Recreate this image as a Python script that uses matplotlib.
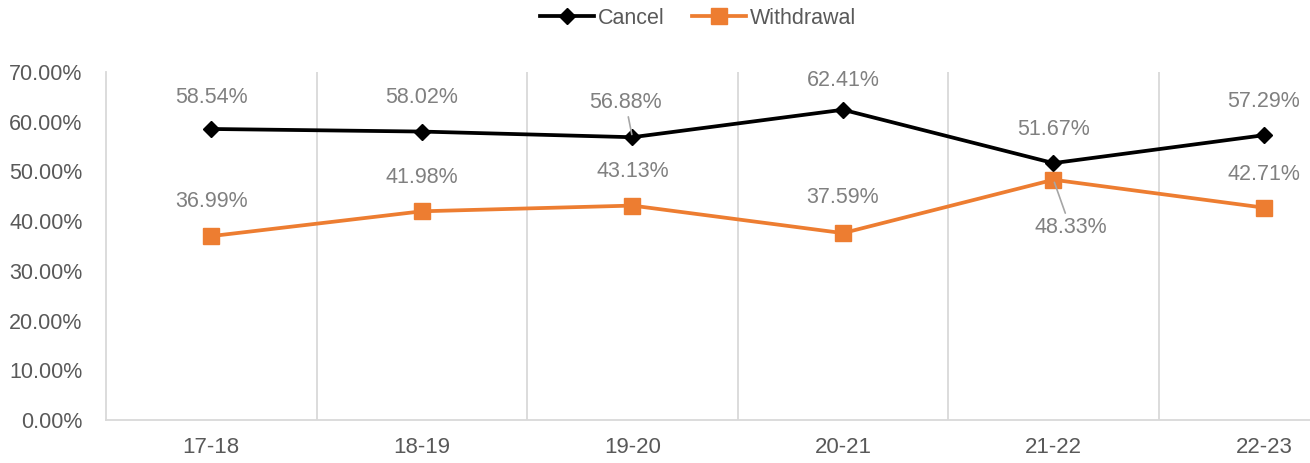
import matplotlib
matplotlib.use("Agg")
from matplotlib import pyplot as plt
from matplotlib.ticker import PercentFormatter

# 数据
years = ["17-18", "18-19", "19-20", "20-21", "21-22", "22-23"]
cancel = [0.5854, 0.5802, 0.5688, 0.6241, 0.5167, 0.5729]
withdrawal = [0.3699, 0.4198, 0.4313, 0.3759, 0.4833, 0.4271]

# 标签偏移（像素）
cancel_off = [(0, 31), (0, 34), (-7, 35), (0, 29), (0, 34), (0, 34)]
withdrawal_off = [(0, 35), (0, 34), (0, 34), (0, 36), (17, -48), (0, 33)]
cancel_leader = [False, False, True, False, False, False]
withdrawal_leader = [False, False, False, False, True, False]

plt.rcParams['font.family'] = ['Liberation Sans', 'DejaVu Sans']

fig = plt.figure(figsize=(13.10, 4.63), dpi=100)
ax = fig.add_axes([106 / 1310, 43 / 463, 1 - 106 / 1310, (420 - 72) / 463])

x = list(range(len(years)))
ax.plot(x, cancel, color="black", lw=2.7, marker="D", markersize=8.5, label="Cancel", zorder=3)
ax.plot(x, withdrawal, color="#ED7D31", lw=2.7, marker="s", markersize=11, label="Withdrawal", zorder=3)

# 数据标签
for series, offs, leads in [(cancel, cancel_off, cancel_leader),
                            (withdrawal, withdrawal_off, withdrawal_leader)]:
    for i, v in enumerate(series):
        dx, dy = offs[i]
        props = None
        if leads[i]:
            props = dict(arrowstyle="-", color="#a6a6a6", lw=1.2, shrinkA=1, shrinkB=2)
        ax.annotate("{:.2f}%".format(v * 100), (i, v), xytext=(dx, dy),
                    textcoords="offset pixels", ha="center", va="center",
                    fontsize=15.5, color="#808080", arrowprops=props, zorder=4)

ax.set_xlim(-0.5, (1310 - 211) / 210.6)
ax.set_ylim(0, 0.7)
ax.set_yticks([i / 10 for i in range(8)])
ax.yaxis.set_major_formatter(PercentFormatter(1.0, decimals=2))
ax.set_xticks(x)
ax.set_xticklabels(years)

# 垂直网格线（类别之间）
for b in [i + 0.5 for i in range(len(years) - 1)]:
    ax.axvline(b, color="#d9d9d9", lw=1.3, zorder=1)

for s in ["top", "right"]:
    ax.spines[s].set_visible(False)
for s in ["left", "bottom"]:
    ax.spines[s].set_color("#d9d9d9")
    ax.spines[s].set_linewidth(1.3)
ax.tick_params(length=0, labelsize=15.5, labelcolor="#595959")
ax.tick_params(axis="x", pad=12)
ax.tick_params(axis="y", pad=17)
for t in ax.get_xticklabels():
    t.set_fontsize(16)

fig.legend(loc="center", bbox_to_anchor=(698 / 1310, 1 - 18 / 463), ncol=2, frameon=False,
           fontsize=15.5, labelcolor="#595959", handlelength=2.5, columnspacing=1.25, handletextpad=0.2)

plt.savefig("out.png", dpi=100)
